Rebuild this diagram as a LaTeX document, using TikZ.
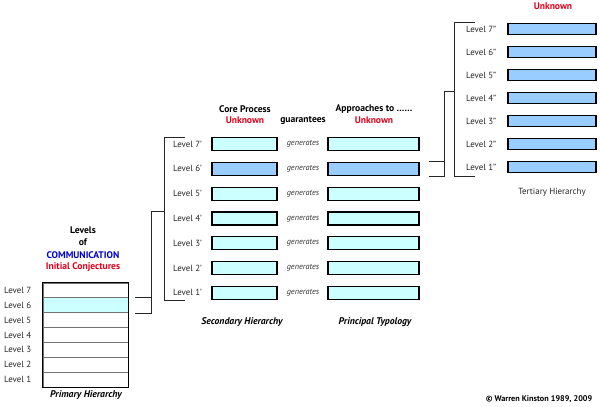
\documentclass[tikz,border=0pt]{standalone}
\usepackage{fontspec}
\setmainfont{PT Sans}
\usetikzlibrary{calc}
\definecolor{cyanfill}{HTML}{CCFFFF}
\definecolor{bluefill}{HTML}{99CCFF}
\definecolor{unkred}{HTML}{E3001B}
\definecolor{commblue}{HTML}{0000CC}
\begin{document}
\begin{tikzpicture}[x=1pt,y=-1pt,
  lbl/.style={font=\fontsize{8.9}{10}\selectfont, text=black!85, inner sep=0pt},
  hdr/.style={font=\bfseries\fontsize{9.6}{11}\selectfont, inner sep=0pt},
  ttl/.style={font=\bfseries\itshape\fontsize{9.7}{11}\selectfont, inner sep=0pt},
  gen/.style={font=\itshape\fontsize{8.2}{9}\selectfont, text=black!80, inner sep=0pt},
  bar/.style={draw=black, line width=1.2pt, fill=cyanfill, inner sep=0pt, minimum height=13pt},
  corebar/.style={bar, minimum width=65pt},
  appbar/.style={bar, minimum width=91pt},
  terbar/.style={bar, fill=bluefill, minimum width=88pt, minimum height=11.5pt},
  row/.style={draw=black!55, line width=0.9pt, fill=white, inner sep=0pt, minimum width=85pt, minimum height=14.857pt},
  link/.style={draw=black!85, line width=0.8pt}]
\useasboundingbox (0,0) rectangle (600,407);

% ---------- Primary hierarchy ----------
\node[hdr] (hLevels) at (83,230) {Levels};
\node[hdr] (hOf) at (83,242) {of};
\node[hdr, text=commblue] (hComm) at (83,255) {COMMUNICATION};
\node[hdr, text=unkred] (hInit) at (83,267) {Initial Conjectures};
\foreach \k in {7,...,1}{
  \pgfmathsetmacro{\yy}{283+14.857*(7-\k)+7.43}
  \node[row] (p\k) at (85.5,\yy) {};
  \node[lbl, anchor=west] (pl\k) at (4,\yy) {Level \k};
}
\node[row, fill=cyanfill] at (p6) {};
\draw[black, line width=1.3pt] (p7.north west) rectangle (p1.south east);
\node[ttl] (prim) at (86,395) {Primary Hierarchy};

% ---------- Secondary hierarchy ----------
\node[hdr] (hCore) at (245,109) {Core Process};
\node[hdr, text=unkred] (hCoreU) at (245,120) {Unknown};
\node[hdr] (hGuar) at (303,120) {guarantees};
\node[hdr] (hApp) at (374,109) {Approaches to ……};
\node[hdr, text=unkred] (hAppU) at (374,120) {Unknown};
\foreach \k in {7,...,1}{
  \pgfmathsetmacro{\yy}{144+24.8*(7-\k)}
  \node[lbl, anchor=west] (sl\k) at (173,\yy) {Level \k'};
  \node[corebar] (c\k) at (244.5,\yy) {};
  \node[gen] (g\k) at (303,\yy) {generates};
  \node[appbar] (a\k) at (373.5,\yy) {};
}
\node[corebar, fill=bluefill] at (c6) {};
\node[appbar, fill=bluefill] at (a6) {};
\node[ttl] (sec) at (242,322) {Secondary Hierarchy};
\node[ttl] (typ) at (375,322) {Principal Typology};

% ---------- Tertiary hierarchy ----------
\node[hdr, text=unkred] (hTerU) at (553,6) {Unknown};
\foreach \k in {7,...,1}{
  \pgfmathsetmacro{\yy}{29+23*(7-\k)}
  \node[lbl, anchor=west] (tl\k) at (466,\yy) {Level \k''};
  \node[terbar] (t\k) at (552,\yy) {};
}
\node[lbl] (ter) at (552,192) {Tertiary Hierarchy};

% ---------- copyright ----------
\node[font=\bfseries\fontsize{8.2}{9}\selectfont, inner sep=0pt] (copy) at (539,399) {© Warren Kinston 1989, 2009};

% ---------- brackets ----------
% primary -> secondary
\coordinate (pj) at (151,0);
\coordinate (sv) at (164,0);
\draw[link] ($(p6.north east)+(7,0)$) -- (pj |- p6.north);
\draw[link] ($(p6.south east)+(7,0)$) -- (pj |- p6.south) -- (pj |- c4.north) -- (sv |- c4.north);
\draw[link] ($(sl7.west |- c7.north)+(12,0)$) -- (sv |- c7.north) -- (sv |- c1.south) -- ($(sl1.west |- c1.south)+(12,0)$);
% secondary -> tertiary
\coordinate (tj) at (444,0);
\coordinate (tv) at (454,0);
\draw[link] ($(a6.north east)+(9,0)$) -- (tj |- a6.north);
\draw[link] ($(a6.south east)+(9,0)$) -- (tj |- a6.south) -- (tj |- t4.north) -- (tv |- t4.north);
\draw[link] ($(tl7.west |- t7.north)+(9,0)$) -- (tv |- t7.north) -- (tv |- a6.south) -- ($(tl1.west |- a6.south)+(9,0)$);
\end{tikzpicture}
\end{document}
